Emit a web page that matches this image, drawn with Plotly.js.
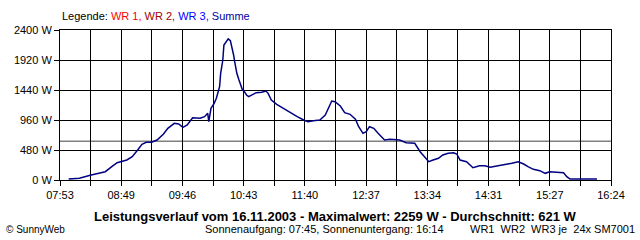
<!DOCTYPE html>
<html>
<head>
<meta charset="utf-8">
<script src="https://cdn.plot.ly/plotly-3.0.1.min.js"></script>
<style>html,body{margin:0;padding:0;background:#fff;}#chart{width:640px;height:240px;}</style>
</head>
<body>
<div id="chart"></div>
<script>
// Data
const times = ['08:01','08:11','08:21','08:30','08:35','08:41','08:46','08:55','09:00','09:05','09:09','09:13','09:18','09:23','09:29','09:33','09:39','09:43','09:47','09:51','09:56','10:03','10:07','10:10','10:11','10:13','10:16','10:18','10:21','10:22','10:24','10:25','10:28','10:29','10:31','10:32','10:34','10:35','10:37','10:39','10:42','10:44','10:46','10:48','10:51','10:55','11:00','11:04','11:06','11:09','11:14','11:20','11:26','11:33','11:39','11:43','11:48','11:54','11:59','12:02','12:05','12:08','12:13','12:17','12:22','12:27','12:30','12:34','12:37','12:40','12:44','12:48','12:54','12:59','13:04','13:08','13:14','13:22','13:27','13:35','13:39','13:44','13:48','13:53','13:58','14:01','14:04','14:10','14:16','14:22','14:27','14:32','14:38','14:44','14:52','14:58','15:03','15:07','15:12','15:18','15:23','15:27','15:34','15:40','15:43','15:46','16:11'];
const summe = [16,27,75,117,133,213,277,320,373,480,571,603,603,640,736,827,907,896,843,880,997,987,1013,1067,933,1147,1227,1307,1493,1707,1920,2160,2229,2259,2229,2160,2000,1893,1707,1600,1451,1413,1360,1333,1360,1397,1403,1424,1387,1280,1211,1147,1093,1013,960,933,949,960,1040,1147,1264,1253,1184,1077,1051,971,853,747,773,853,827,747,640,651,651,640,597,587,453,293,320,347,400,427,437,416,320,293,197,229,229,203,224,240,267,293,256,213,171,149,107,133,128,117,53,16,16];
const xTickLabels = ['07:53','08:49','09:46','10:43','11:40','12:37','13:34','14:31','15:27','16:24'];
const average = 621;
const maximum = 2259;
const yTicks = [0,480,960,1440,1920,2400];

function toMin(s){const p=s.split(':');return (+p[0])*60+(+p[1]);}
const x = times.map(toMin);
const first = toMin(xTickLabels[0]), last = toMin(xTickLabels[xTickLabels.length-1]);
const nInt = (xTickLabels.length-1)*2;
const step = (last-first)/nInt;
const tickvals = [], ticktext = [];
for(let i=0;i<=nInt;i++){tickvals.push(first+i*step);ticktext.push(i%2===0?xTickLabels[i/2]:'');}

const font = 'Liberation Sans, Arial, sans-serif';
const px2x = p => (p-60)/551;
const py2y = p => (180-p)/150;

const trace = {x:x, y:summe, type:'scatter', mode:'lines', line:{color:'#000080', width:1.5}, hoverinfo:'skip'};

const layout = {
  width:640, height:240,
  margin:{l:60, r:29, t:30, b:60, pad:0},
  paper_bgcolor:'#fff', plot_bgcolor:'#fff',
  showlegend:false,
  font:{family:font, size:11, color:'#000'},
  xaxis:{range:[first,last], tickvals:tickvals, ticktext:ticktext, showgrid:true, gridcolor:'#000', gridwidth:1,
         showline:true, linecolor:'#000', linewidth:1, mirror:true, ticks:'outside', ticklen:5, tickcolor:'#000',
         zeroline:false, tickfont:{family:font,size:11,color:'#000'}, fixedrange:true},
  yaxis:{range:[0,2400], tickvals:yTicks, ticktext:yTicks.map(v=>v+' W'), showgrid:true, gridcolor:'#000', gridwidth:1,
         showline:true, linecolor:'#000', linewidth:1, mirror:true, ticks:'outside', ticklen:5, tickcolor:'#000',
         zeroline:false, tickfont:{family:font,size:11,color:'#000'}, fixedrange:true},
  shapes:[{type:'line', xref:'paper', x0:0, x1:1, yref:'y', y0:average, y1:average, line:{color:'#808080', width:1.5}, layer:'below'}],
  annotations:[
    {xref:'paper', yref:'paper', x:px2x(60), y:py2y(16), xanchor:'left', yanchor:'middle', showarrow:false,
     font:{family:font,size:11,color:'#000'},
     text:'Legende: <span style="color:#ff0000">WR 1,</span> <span style="color:#a00000">WR 2,</span> <span style="color:#0000ff">WR 3,</span> <span style="color:#0000a0">Summe</span>'},
    {xref:'paper', yref:'paper', x:px2x(335), y:py2y(216), xanchor:'center', yanchor:'middle', showarrow:false,
     font:{family:font,size:13,color:'#000'},
     text:'<b>Leistungsverlauf vom 16.11.2003 - Maximalwert: '+maximum+' W - Durchschnitt: '+average+' W</b>'},
    {xref:'paper', yref:'paper', x:px2x(4), y:py2y(229), xanchor:'left', yanchor:'middle', showarrow:false,
     font:{family:font,size:10,color:'#000'}, text:'© SunnyWeb'},
    {xref:'paper', yref:'paper', x:px2x(203), y:py2y(229), xanchor:'left', yanchor:'middle', showarrow:false,
     font:{family:font,size:11,color:'#000'}, text:'Sonnenaufgang: 07:45, Sonnenuntergang: 16:14'},
    {xref:'paper', yref:'paper', x:px2x(637), y:py2y(229), xanchor:'right', yanchor:'middle', showarrow:false,
     font:{family:font,size:11,color:'#000'}, text:'WR1\u00a0\u00a0WR2\u00a0\u00a0WR3\u00a0je\u00a0\u00a024x\u00a0SM7001'}
  ]
};
Plotly.newPlot('chart',[trace],layout,{staticPlot:true, displayModeBar:false});
</script>
</body>
</html>
